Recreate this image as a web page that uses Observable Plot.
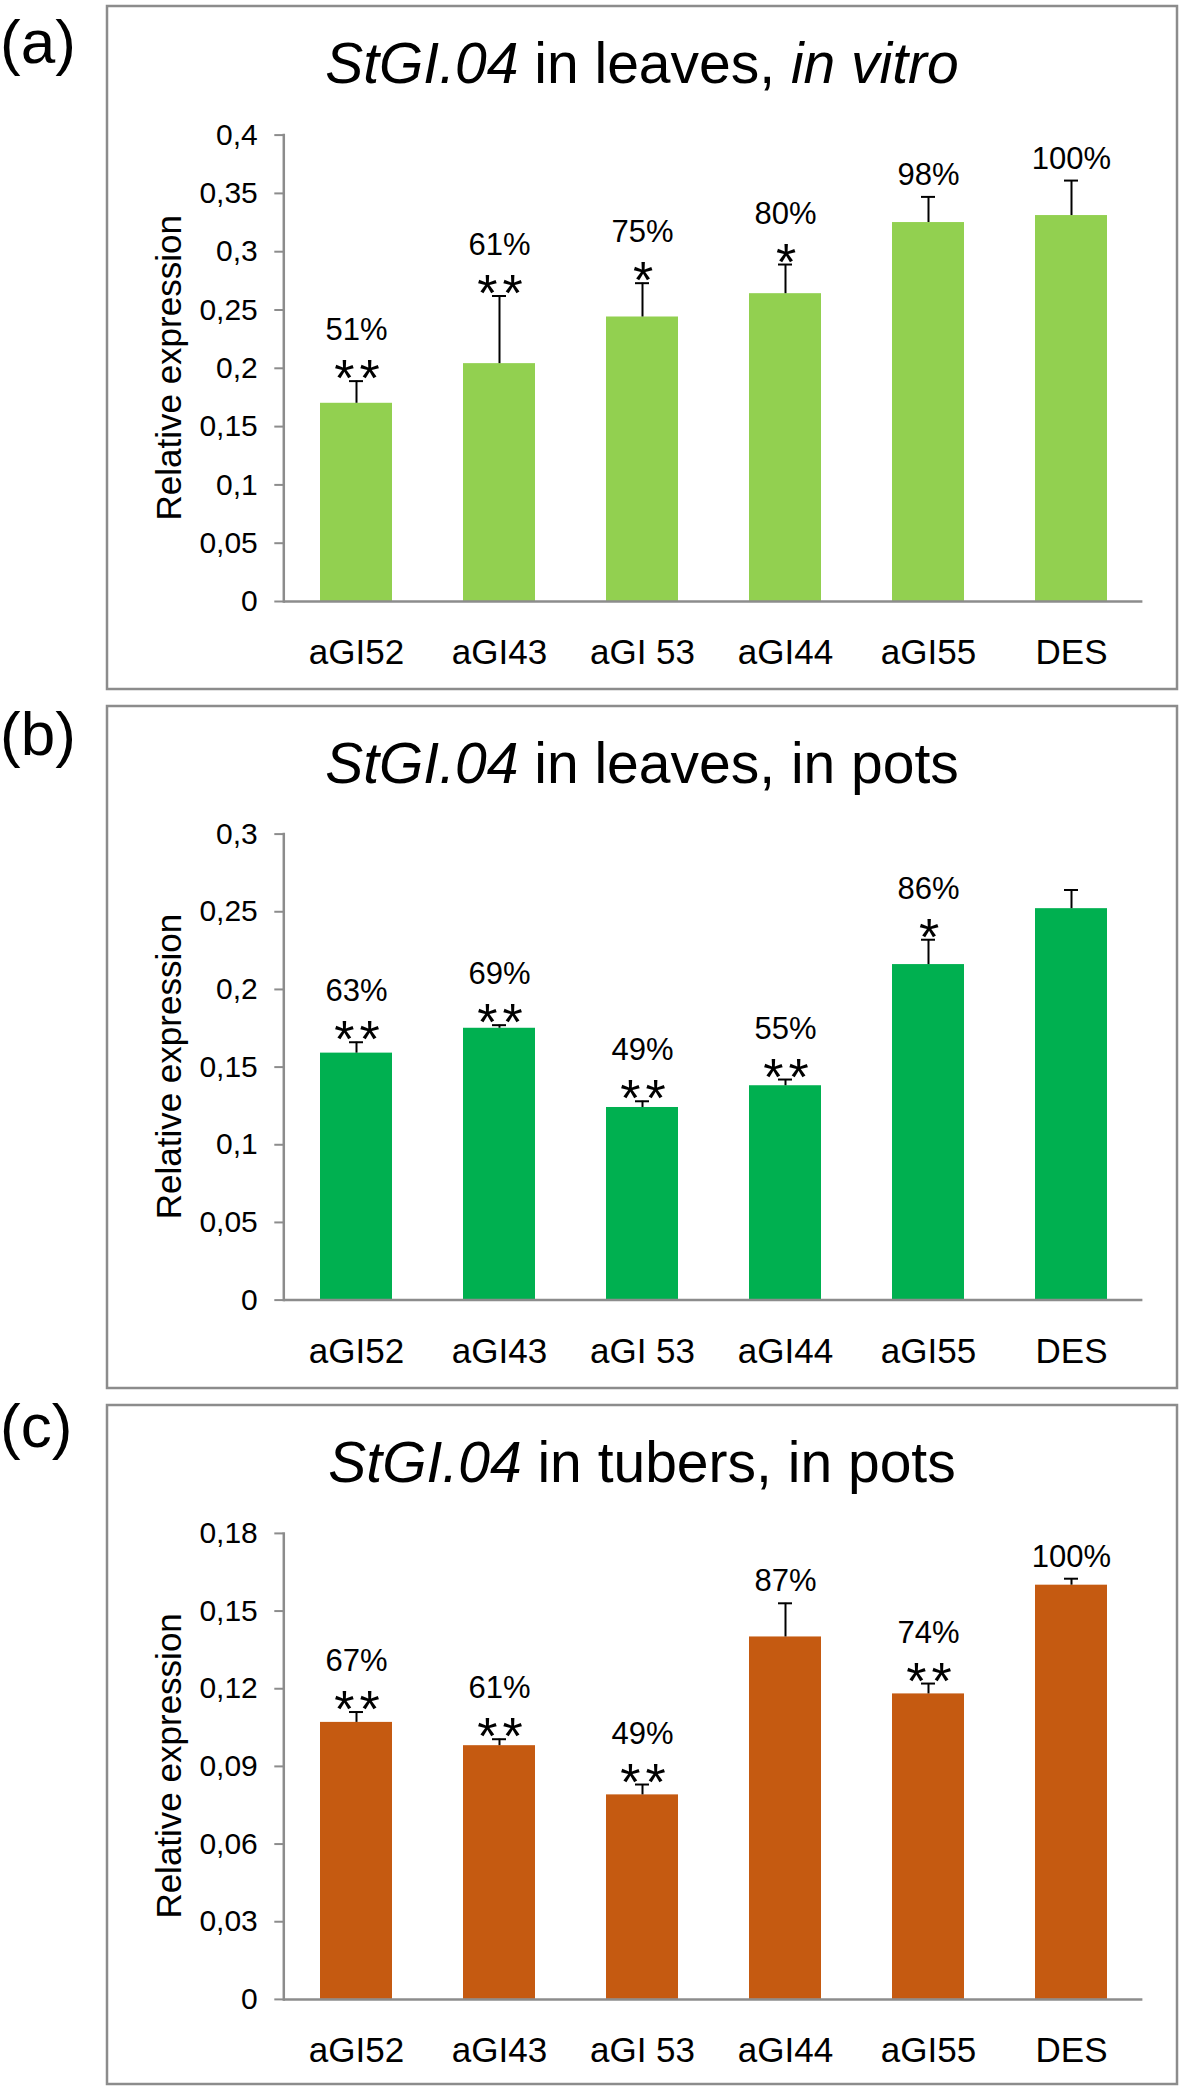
<!DOCTYPE html>
<html>
<head>
<meta charset="utf-8">
<script src="https://cdn.jsdelivr.net/npm/d3@7"></script>
<script src="https://cdn.jsdelivr.net/npm/@observablehq/plot@0.6"></script>
<style>
  html, body { margin: 0; padding: 0; background: #fff; }
  #page { position: relative; width: 1184px; height: 2091px; font-family: "Liberation Sans", Arial, sans-serif; }
  .panel { position: absolute; left: 0; }
  .panel svg { display: block; }
  #overlay { position: absolute; left: 0; top: 0; pointer-events: none; }
</style>
</head>
<body>
<div id="page"></div>
<script>
// ---------- data ----------
const categories = ["aGI52", "aGI43", "aGI 53", "aGI44", "aGI55", "DES"];

const leavesVitroValues = [0.170, 0.204, 0.244, 0.264, 0.325, 0.331];
const leavesVitroErrors = [0.019, 0.058, 0.029, 0.025, 0.022, 0.030];
const leavesVitroPercent = ["51%", "61%", "75%", "80%", "98%", "100%"];
const leavesVitroStars = ["**", "**", "*", "*", "", ""];
const leavesVitroTicks = [0, 0.05, 0.1, 0.15, 0.2, 0.25, 0.3, 0.35, 0.4];

const leavesPotsValues = [0.159, 0.175, 0.124, 0.138, 0.216, 0.252];
const leavesPotsErrors = [0.007, 0.002, 0.004, 0.004, 0.016, 0.012];
const leavesPotsPercent = ["63%", "69%", "49%", "55%", "86%", ""];
const leavesPotsStars = ["**", "**", "**", "**", "*", ""];
const leavesPotsTicks = [0, 0.05, 0.1, 0.15, 0.2, 0.25, 0.3];

const tubersPotsValues = [0.107, 0.098, 0.079, 0.140, 0.118, 0.160];
const tubersPotsErrors = [0.004, 0.0025, 0.004, 0.013, 0.004, 0.0025];
const tubersPotsPercent = ["67%", "61%", "49%", "87%", "74%", "100%"];
const tubersPotsStars = ["**", "**", "**", "", "**", ""];
const tubersPotsTicks = [0, 0.03, 0.06, 0.09, 0.12, 0.15, 0.18];

const panelLetters = ["(a)", "(b)", "(c)"];
const titleParts = [
  [["StGI.04", true], [" in leaves, ", false], ["in vitro", true]],
  [["StGI.04", true], [" in leaves, in pots", false]],
  [["StGI.04", true], [" in tubers, in pots", false]]
];
const yTitle = "Relative expression";

// ---------- layout / style ----------
const FONT = "'Liberation Sans', Arial, sans-serif";
const AXIS_GRAY = "#8c8c8c";
const layouts = [
  {top: 0,    height: 697, mt: 134.6, mb: 96,   box: [107, 6, 1070, 683],    letterY: 63,   color: "#92d050"},
  {top: 697,  height: 700, mt: 136.6, mb: 97.4, box: [107, 706, 1070, 682],  letterY: 755,  color: "#00b050"},
  {top: 1397, height: 694, mt: 135.9, mb: 92.1, box: [107, 1405, 1070, 679], letterY: 1447, color: "#c55a11"}
];
const series = [
  {values: leavesVitroValues, errors: leavesVitroErrors, pct: leavesVitroPercent, stars: leavesVitroStars, ticks: leavesVitroTicks},
  {values: leavesPotsValues, errors: leavesPotsErrors, pct: leavesPotsPercent, stars: leavesPotsStars, ticks: leavesPotsTicks},
  {values: tubersPotsValues, errors: tubersPotsErrors, pct: tubersPotsPercent, stars: tubersPotsStars, ticks: tubersPotsTicks}
];

const page = document.getElementById("page");

function makeChart(s, lay) {
  const rows = categories.map((c, i) => ({
    cat: c, v: s.values[i], hi: s.values[i] + s.errors[i], pct: s.pct[i], star: s.stars[i]
  }));
  const ymax = s.ticks[s.ticks.length - 1];
  return Plot.plot({
    width: 1184,
    height: lay.height,
    marginLeft: 283.3,
    marginRight: 41.6,
    marginTop: lay.mt,
    marginBottom: lay.mb,
    style: {fontFamily: FONT, background: "transparent", color: "black", overflow: "visible"},
    x: {domain: categories, paddingInner: 0.5, paddingOuter: 0.25, label: null},
    y: {domain: [0, ymax], label: null},
    marks: [
      Plot.barY(rows, {x: "cat", y: "v", fill: lay.color}),
      Plot.ruleX(rows, {x: "cat", y1: "v", y2: "hi", stroke: "black", strokeWidth: 2}),
      Plot.tickY(rows, {x: "cat", y: "hi", stroke: "black", strokeWidth: 2, inset: 29}),
      Plot.ruleY([0], {stroke: AXIS_GRAY, strokeWidth: 2.5}),
      Plot.frame({anchor: "left", stroke: AXIS_GRAY, strokeWidth: 2.5}),
      Plot.axisY({ticks: s.ticks, tickFormat: d => String(d).replace(".", ","), tickSize: 9, tickPadding: 17,
                  fontSize: 30, stroke: AXIS_GRAY, strokeWidth: 2, label: null}),
      Plot.axisX({tickSize: 0, tickPadding: 38, fontSize: 35, label: null}),
      // significance stars just above the error bar
      Plot.text(rows.filter(d => d.star), {x: "cat", y: "hi", text: "star", lineAnchor: "bottom",
                dy: 15, dx: 3, fontSize: 52, fill: "black"}),
      // percentage above the stars
      Plot.text(rows.filter(d => d.pct && d.star), {x: "cat", y: "hi", text: "pct", lineAnchor: "bottom",
                dy: -41, fontSize: 31, fill: "black"}),
      // percentage only
      Plot.text(rows.filter(d => d.pct && !d.star), {x: "cat", y: "hi", text: "pct", lineAnchor: "bottom",
                dy: -12, fontSize: 31, fill: "black"})
    ]
  });
}

function restyleStars(svg) {
  svg.querySelectorAll("text").forEach(t => {
    if (/^\*+$/.test(t.textContent)) t.style.letterSpacing = "5px";
  });
}

layouts.forEach((lay, k) => {
  const div = document.createElement("div");
  div.className = "panel";
  div.style.top = lay.top + "px";
  const chart = makeChart(series[k], lay);
  restyleStars(chart);
  div.appendChild(chart);
  page.appendChild(div);
});

// ---------- overlay: boxes, panel letters, titles, y titles ----------
const ov = d3.select(page).append("svg").attr("id", "overlay")
  .attr("width", 1184).attr("height", 2091)
  .style("font-family", FONT);

layouts.forEach((lay, k) => {
  const [bx, by, bw, bh] = lay.box;
  ov.append("rect").attr("x", bx).attr("y", by).attr("width", bw).attr("height", bh)
    .attr("fill", "none").attr("stroke", AXIS_GRAY).attr("stroke-width", 2.5);
  ov.append("text").attr("x", 0).attr("y", lay.letterY).attr("font-size", 62).attr("fill", "black")
    .text(panelLetters[k]);
  const t = ov.append("text").attr("x", bx + bw / 2).attr("y", by + 77)
    .attr("text-anchor", "middle").attr("font-size", 57).attr("fill", "black");
  titleParts[k].forEach(([str, it]) => {
    t.append("tspan").attr("font-style", it ? "italic" : "normal").text(str);
  });
  const plotTop = lay.top + lay.mt;
  const plotBottom = lay.top + lay.height - lay.mb;
  ov.append("text")
    .attr("transform", `translate(181,${(plotTop + plotBottom) / 2}) rotate(-90)`)
    .attr("text-anchor", "middle").attr("font-size", 35).attr("fill", "black")
    .text(yTitle);
});
</script>
</body>
</html>
